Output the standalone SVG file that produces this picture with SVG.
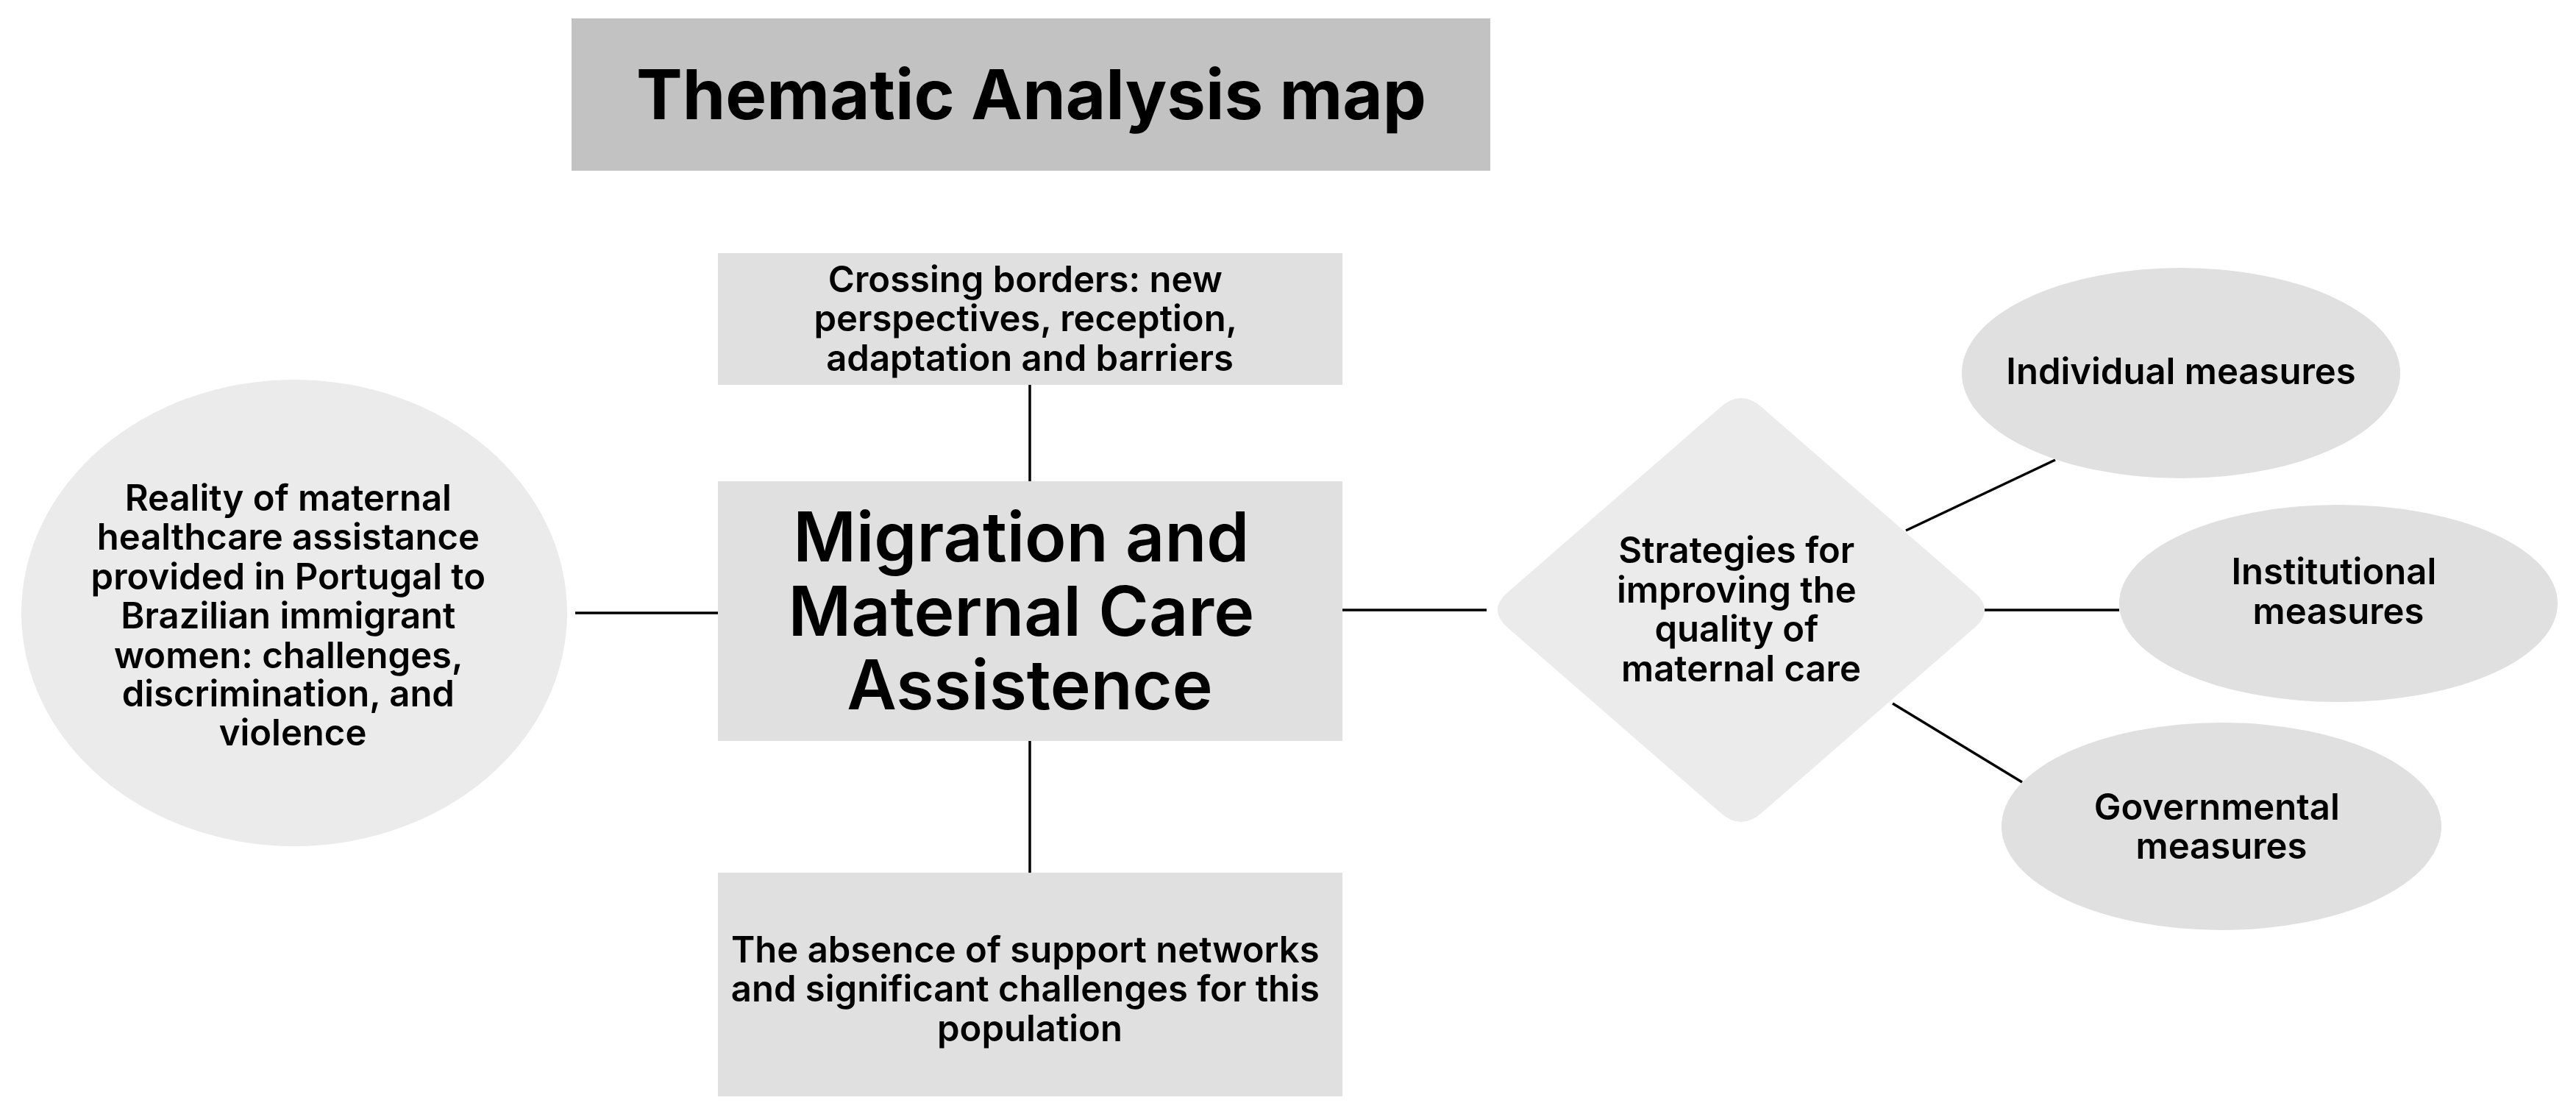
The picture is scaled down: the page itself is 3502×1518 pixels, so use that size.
<svg xmlns="http://www.w3.org/2000/svg" width="3502" height="1518" viewBox="0 0 3502 1518">
<style>
  .t { font-family: Inter, "Liberation Sans", sans-serif; font-weight: 600; fill: #000; text-anchor: middle; }
  .s { font-size: 49px; }
  .lt { fill: #ebebeb; }
  .md { fill: #e0e0e0; }
  .conn line { stroke: #000; stroke-width: 3.5; }
</style>
<rect width="3502" height="1518" fill="#fff"/>
<g id="title">
  <rect x="777" y="25" width="1249" height="207" fill="#c2c2c2"/>
  <text class="t" x="1402" y="162" style="font-size:94px;font-weight:700">Thematic Analysis map</text>
</g>
<g class="conn" id="connectors">
  <line x1="782" y1="833" x2="976" y2="833"/>
  <line x1="1400" y1="523" x2="1400" y2="654"/>
  <line x1="1400" y1="1007" x2="1400" y2="1186"/>
  <line x1="1825" y1="829" x2="2021" y2="829"/>
  <line x1="2591" y1="721" x2="2794" y2="625"/>
  <line x1="2689" y1="829" x2="2881" y2="829"/>
  <line x1="2573" y1="956" x2="2749" y2="1063"/>
</g>
<g id="center">
  <rect class="md" x="976" y="654" width="849" height="353"/>
  <text class="t" x="1400" style="font-size:93px">
    <tspan x="1400" y="763">Migration and</tspan>
    <tspan x="1400" y="864">Maternal Care</tspan>
    <tspan x="1400" y="964">Assistence</tspan>
  </text>
</g>
<g id="crossing">
  <rect class="md" x="976" y="344" width="849" height="179"/>
  <text class="t s">
    <tspan x="1400" y="397">Crossing borders: new</tspan>
    <tspan x="1400" y="450">perspectives, reception,</tspan>
    <tspan x="1400" y="504">adaptation and barriers</tspan>
  </text>
</g>
<g id="absence">
  <rect class="md" x="976" y="1186" width="849" height="304"/>
  <text class="t s">
    <tspan x="1400" y="1308">The absence of support networks</tspan>
    <tspan x="1400" y="1361">and significant challenges for this</tspan>
    <tspan x="1400" y="1415">population</tspan>
  </text>
</g>
<g id="reality">
  <ellipse class="lt" cx="400" cy="833" rx="371" ry="317"/>
  <text class="t s">
    <tspan x="398" y="694">Reality of maternal</tspan>
    <tspan x="398" y="747">healthcare assistance</tspan>
    <tspan x="398" y="801">provided in Portugal to</tspan>
    <tspan x="398" y="854">Brazilian immigrant</tspan>
    <tspan x="398" y="908">women: challenges,</tspan>
    <tspan x="398" y="960">discrimination, and</tspan>
    <tspan x="398" y="1013">violence</tspan>
  </text>
</g>
<g id="strategies">
  <path class="lt" d="M2339.4,553 Q2367,529 2394.6,553 L2684.4,805 Q2712,829 2684.4,853 L2394.6,1105 Q2367,1129 2339.4,1105 L2049.6,853 Q2022,829 2049.6,805 Z"/>
  <text class="t s">
    <tspan x="2367" y="765">Strategies for</tspan>
    <tspan x="2367" y="819">improving the</tspan>
    <tspan x="2367" y="872">quality of</tspan>
    <tspan x="2367" y="926">maternal care</tspan>
  </text>
</g>
<g id="individual">
  <ellipse class="md" cx="2965" cy="507" rx="298" ry="143"/>
  <text class="t s" x="2965" y="522">Individual measures</text>
</g>
<g id="institutional">
  <ellipse class="md" cx="3179" cy="820" rx="298" ry="134"/>
  <text class="t s">
    <tspan x="3179" y="794">Institutional</tspan>
    <tspan x="3179" y="848">measures</tspan>
  </text>
</g>
<g id="governmental">
  <ellipse class="md" cx="3020" cy="1123" rx="299" ry="141"/>
  <text class="t s">
    <tspan x="3020" y="1114">Governmental</tspan>
    <tspan x="3020" y="1167">measures</tspan>
  </text>
</g>
</svg>
